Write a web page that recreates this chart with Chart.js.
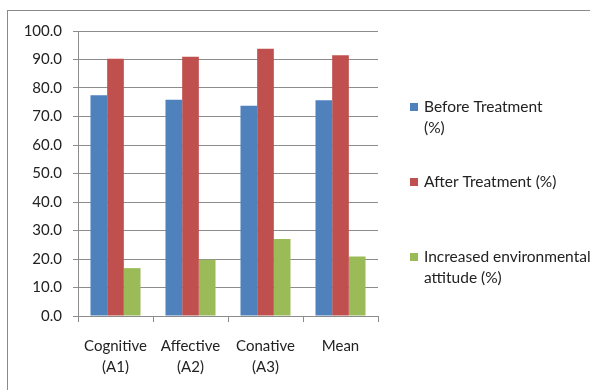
<!DOCTYPE html>
<html>
<head>
<meta charset="utf-8">
<script src="https://cdn.jsdelivr.net/npm/chart.js@4/dist/chart.umd.min.js"></script>
<style>
  html, body { margin: 0; padding: 0; background: #fff; }
  #wrap { width: 590px; height: 390px; position: relative; }
</style>
</head>
<body>
<div id="wrap"><canvas id="c" width="590" height="390"></canvas></div>
<script>
const categories = [['Cognitive', '(A1)'], ['Affective', '(A2)'], ['Conative', '(A3)'], ['Mean']];
const beforeTreatment = [77.5, 75.9, 73.8, 75.7];
const afterTreatment = [90.3, 91.0, 93.8, 91.5];
const increasedAttitude = [16.8, 19.7, 27.0, 20.9];
const seriesNames = [['Before Treatment', '(%)'], ['After Treatment (%)'], ['Increased environmental', 'attitude (%)']];

const FONT = 'Lato, "Open Sans", sans-serif';
const GRID = '#8c8c8c';

// Outer frame around the chart
const framePlugin = {
  id: 'frame',
  beforeDraw(chart) {
    const ctx = chart.ctx;
    ctx.save();
    ctx.strokeStyle = '#8a8a8a';
    ctx.lineWidth = 1;
    ctx.strokeRect(7.5, 10.5, 620, 420);
    ctx.restore();
  }
};

// Right-hand legend with wrapped labels
const sideLegend = {
  id: 'sideLegend',
  afterDraw(chart) {
    const ctx = chart.ctx;
    const rows = [107, 182, 257];
    ctx.save();
    ctx.font = '15.5px ' + FONT;
    ctx.textBaseline = 'middle';
    ctx.textAlign = 'left';
    chart.data.datasets.forEach((ds, i) => {
      const y = rows[i];
      ctx.fillStyle = ds.backgroundColor;
      ctx.fillRect(410, y - 4, 8, 8);
      ctx.fillStyle = '#222';
      const lines = Array.isArray(ds.label) ? ds.label : [ds.label];
      lines.forEach((t, k) => ctx.fillText(t, 424, y + k * 21));
    });
    ctx.restore();
  }
};

new Chart(document.getElementById('c'), {
  type: 'bar',
  data: {
    labels: categories,
    datasets: [
      { label: seriesNames[0], data: beforeTreatment, backgroundColor: '#4F81BD' },
      { label: seriesNames[1], data: afterTreatment, backgroundColor: '#C0504D' },
      { label: seriesNames[2], data: increasedAttitude, backgroundColor: '#9BBB59' }
    ]
  },
  options: {
    responsive: false,
    animation: false,
    devicePixelRatio: 1,
    layout: { padding: { top: 31, right: 212, left: 0, bottom: 0 } },
    datasets: { bar: { categoryPercentage: 0.667, barPercentage: 1.0 } },
    plugins: { legend: { display: false }, tooltip: { enabled: false } },
    scales: {
      x: {
        grid: { display: true, drawOnChartArea: false, offset: true, tickLength: 6, color: GRID },
        border: { color: GRID },
        ticks: { font: { family: FONT, size: 15, lineHeight: 1.4 }, color: '#222', padding: 14, maxRotation: 0 },
        afterFit(scale) { scale.height = 74; }
      },
      y: {
        min: 0, max: 100,
        grid: { color: GRID, tickLength: 5 },
        border: { color: GRID },
        ticks: {
          stepSize: 10,
          font: { family: FONT, size: 15 },
          color: '#222',
          padding: 11,
          callback: v => Number(v).toFixed(1)
        },
        afterFit(scale) { scale.width = 78; }
      }
    }
  },
  plugins: [framePlugin, sideLegend]
});
</script>
</body>
</html>
